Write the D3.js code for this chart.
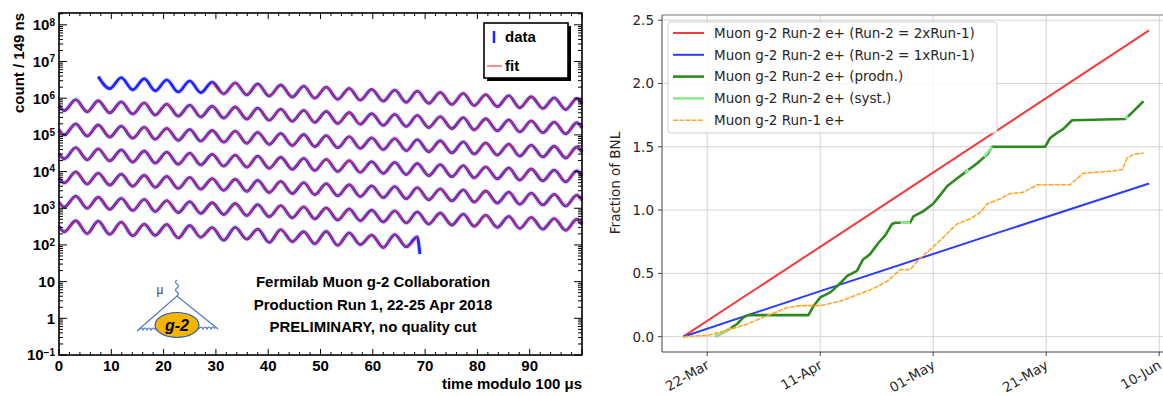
<!DOCTYPE html>
<html>
<head>
<meta charset="utf-8">
<script src="https://cdn.jsdelivr.net/npm/d3@7"></script>
<style>
  body { margin: 0; background: #fff; }
  svg { display: block; }
</style>
</head>
<body>
<div id="chart"></div>
<script>
// ---------------- left panel : wiggle plot (log10 counts at the wiggle extrema) ----------------
const wiggleTimes = [0, 1.0, 3.2, 5.4, 7.5, 9.7, 11.9, 14.1, 16.3, 18.4, 20.6, 22.8, 25.0, 27.1, 29.3, 31.5,
  33.7, 35.9, 38.0, 40.2, 42.4, 44.6, 46.8, 48.9, 51.1, 53.3, 55.5, 57.6, 59.8, 62.0, 64.2, 66.4, 68.5,
  70.7, 72.9, 75.1, 77.3, 79.4, 81.6, 83.8, 86.0, 88.1, 90.3, 92.5, 94.7, 96.9, 99.0, 100];
const lastRowTimes = [0, 1.0, 3.2, 5.4, 7.5, 9.7, 11.9, 14.1, 16.3, 18.4, 20.6, 22.8, 25.0, 27.1, 29.3, 31.5,
  33.7, 35.9, 38.0, 40.2, 42.4, 44.6, 46.8, 48.9, 51.1, 53.3, 55.5, 57.6, 59.8, 62.0, 64.2, 66.4, 68.5, 69.0];

const row1 = [null, null, null, null, 6.59, 6.26, 6.56, 6.23, 6.53, 6.20, 6.50, 6.17, 6.47, 6.15, 6.44, 6.12,
  6.42, 6.09, 6.39, 6.06, 6.36, 6.03, 6.33, 6.00, 6.30, 5.97, 6.27, 5.95, 6.24, 5.92, 6.22, 5.89, 6.19,
  5.86, 6.16, 5.83, 6.13, 5.80, 6.10, 5.77, 6.07, 5.74, 6.04, 5.72, 6.01, 5.69, 5.99, 5.85];
const row2 = [5.80, 5.66, 5.96, 5.63, 5.93, 5.60, 5.90, 5.57, 5.87, 5.54, 5.84, 5.51, 5.81, 5.49, 5.78, 5.46,
  5.76, 5.43, 5.73, 5.40, 5.70, 5.37, 5.67, 5.34, 5.64, 5.31, 5.61, 5.29, 5.58, 5.26, 5.56, 5.23, 5.53,
  5.20, 5.50, 5.17, 5.47, 5.14, 5.44, 5.11, 5.41, 5.08, 5.38, 5.06, 5.35, 5.03, 5.33, 5.19];
const row3 = [5.14, 5.00, 5.30, 4.97, 5.27, 4.94, 5.24, 4.91, 5.21, 4.88, 5.18, 4.85, 5.15, 4.83, 5.12, 4.80,
  5.10, 4.77, 5.07, 4.74, 5.04, 4.71, 5.01, 4.68, 4.98, 4.65, 4.95, 4.63, 4.92, 4.60, 4.90, 4.57, 4.87,
  4.54, 4.84, 4.51, 4.81, 4.48, 4.78, 4.45, 4.75, 4.42, 4.72, 4.40, 4.69, 4.37, 4.67, 4.53];
const row4 = [4.49, 4.35, 4.65, 4.32, 4.62, 4.29, 4.59, 4.26, 4.56, 4.23, 4.53, 4.20, 4.50, 4.18, 4.47, 4.15,
  4.45, 4.12, 4.42, 4.09, 4.39, 4.06, 4.36, 4.03, 4.33, 4.00, 4.30, 3.98, 4.27, 3.95, 4.25, 3.92, 4.22,
  3.89, 4.19, 3.86, 4.16, 3.83, 4.13, 3.80, 4.10, 3.77, 4.07, 3.75, 4.04, 3.72, 4.02, 3.88];
const row5 = [3.83, 3.69, 3.99, 3.66, 3.96, 3.63, 3.93, 3.60, 3.90, 3.57, 3.87, 3.54, 3.84, 3.52, 3.81, 3.49,
  3.79, 3.46, 3.76, 3.43, 3.73, 3.40, 3.70, 3.37, 3.67, 3.34, 3.64, 3.32, 3.61, 3.29, 3.59, 3.26, 3.56,
  3.23, 3.53, 3.20, 3.50, 3.17, 3.47, 3.14, 3.44, 3.11, 3.41, 3.09, 3.38, 3.06, 3.36, 3.22];
const row6 = [3.17, 3.03, 3.33, 3.00, 3.30, 2.97, 3.27, 2.94, 3.24, 2.91, 3.21, 2.88, 3.18, 2.86, 3.15, 2.83,
  3.13, 2.80, 3.10, 2.77, 3.07, 2.74, 3.04, 2.71, 3.01, 2.68, 2.98, 2.66, 2.95, 2.63, 2.93, 2.60, 2.90,
  2.57, 2.87, 2.54, 2.84, 2.51, 2.81, 2.48, 2.78, 2.45, 2.75, 2.43, 2.72, 2.40, 2.70, 2.56];
const row7 = [2.51, 2.36, 2.66, 2.31, 2.65, 2.29, 2.62, 2.25, 2.57, 2.26, 2.56, 2.19, 2.53, 2.21, 2.47, 2.13,
  2.48, 2.16, 2.43, 2.07, 2.42, 2.09, 2.36, 2.03, 2.37, 1.99, 2.33, 2.01, 2.27, 1.93, 2.28, 1.95, 2.22, 1.75];

const wiggleRows = [row1, row2, row3, row4, row5, row6, row7];
const fitStart = [29.3, 0, 0, 0, 0, 0, 0];
const fitEnd = [100, 100, 100, 100, 100, 100, 68.5];

const xTicksLeft = [0, 10, 20, 30, 40, 50, 60, 70, 80, 90];
const yDecades = [-1, 0, 1, 2, 3, 4, 5, 6, 7, 8];
const infoLines = ["Fermilab Muon g-2 Collaboration", "Production Run 1, 22-25 Apr 2018", "PRELIMINARY, no quality cut"];

// ---------------- right panel : fraction of BNL ----------------
const run2Double = [["2018-03-17T18", 0.00], ["2018-04-11T00", 0.71], ["2018-05-11T00", 1.59], ["2018-06-08T05", 2.42]];
const run2Single = [["2018-03-17T18", 0.00], ["2018-04-11T00", 0.36], ["2018-05-11T00", 0.80], ["2018-06-08T05", 1.21]];
const run2Prodn = [
  ["2018-03-23T10", 0.00], ["2018-03-25T13", 0.05], ["2018-03-27T07", 0.10], ["2018-03-28T09", 0.15],
  ["2018-03-29T06", 0.17], ["2018-04-08T22", 0.17], ["2018-04-09T19", 0.24], ["2018-04-11T00", 0.31],
  ["2018-04-12T19", 0.35], ["2018-04-14T12", 0.42], ["2018-04-15T19", 0.48], ["2018-04-17T12", 0.52],
  ["2018-04-18T14", 0.61], ["2018-04-19T19", 0.65], ["2018-04-21T07", 0.74], ["2018-04-22T12", 0.80],
  ["2018-04-23T17", 0.89], ["2018-04-24T07", 0.90], ["2018-04-26T22", 0.90], ["2018-04-27T12", 0.95],
  ["2018-04-29T05", 0.99], ["2018-05-01T00", 1.05], ["2018-05-01T22", 1.10], ["2018-05-03T12", 1.19],
  ["2018-05-05T05", 1.25], ["2018-05-07T00", 1.31], ["2018-05-08T19", 1.37], ["2018-05-10T14", 1.44],
  ["2018-05-11T10", 1.50], ["2018-05-20T19", 1.50], ["2018-05-21T17", 1.57], ["2018-05-22T22", 1.61],
  ["2018-05-24T00", 1.64], ["2018-05-25T14", 1.71], ["2018-06-04T00", 1.72], ["2018-06-05T10", 1.78],
  ["2018-06-07T05", 1.86]];
const run2Syst = [
  ["2018-03-23T10", 0.00], ["2018-03-25T13", 0.05], ["2018-03-26T06", 0.07], ["2018-03-26T07", null],
  ["2018-04-25T05", 0.90], ["2018-04-26T22", 0.90], ["2018-04-26T23", null],
  ["2018-05-06T17", 1.29], ["2018-05-07T05", 1.32], ["2018-05-07T06", null],
  ["2018-05-10T00", 1.42], ["2018-05-11T10", 1.50], ["2018-05-11T11", null],
  ["2018-06-04T00", 1.72], ["2018-06-04T12", 1.74]];
const run1 = [
  ["2018-03-17T18", 0.00], ["2018-03-22T00", 0.01], ["2018-03-25T13", 0.05], ["2018-03-29T02", 0.10],
  ["2018-04-01T14", 0.165], ["2018-04-05T05", 0.23], ["2018-04-07T12", 0.245], ["2018-04-11T00", 0.245],
  ["2018-04-14T12", 0.28], ["2018-04-18T02", 0.34], ["2018-04-20T10", 0.38], ["2018-04-22T22", 0.44],
  ["2018-04-25T05", 0.53], ["2018-04-26T22", 0.53], ["2018-04-28T17", 0.62], ["2018-04-30T12", 0.69],
  ["2018-05-02T05", 0.76], ["2018-05-05T05", 0.89], ["2018-05-07T12", 0.93], ["2018-05-09T07", 0.98],
  ["2018-05-10T14", 1.05], ["2018-05-12T22", 1.09], ["2018-05-14T14", 1.13], ["2018-05-16T22", 1.14],
  ["2018-05-18T05", 1.17], ["2018-05-19T10", 1.20], ["2018-05-25T05", 1.20], ["2018-05-26T12", 1.25],
  ["2018-05-27T12", 1.29], ["2018-06-01T22", 1.31], ["2018-06-03T12", 1.32], ["2018-06-04T07", 1.41],
  ["2018-06-05T10", 1.44], ["2018-06-07T05", 1.45]];

const legendLabels = [
  "Muon g-2 Run-2 e+ (Run-2 = 2xRun-1)",
  "Muon g-2 Run-2 e+ (Run-2 = 1xRun-1)",
  "Muon g-2 Run-2 e+ (prodn.)",
  "Muon g-2 Run-2 e+ (syst.)",
  "Muon g-2 Run-1 e+"];
const dateTicks = ["2018-03-22", "2018-04-11", "2018-05-01", "2018-05-21", "2018-06-10"];
const yTicksRight = [0, 0.5, 1.0, 1.5, 2.0, 2.5];

const svg = d3.select("#chart").append("svg").attr("width", 1163).attr("height", 396);

// =========================== left panel ===========================
const L = svg.append("g").attr("font-family", "'Liberation Sans', Arial, sans-serif").attr("font-weight", "bold");
const xL = d3.scaleLinear().domain([0, 100]).range([59, 582]);
const yL = d3.scaleLog().domain([0.1, 2.1e8]).range([355, 13]);

// wiggles: data (blue, with light error halo) and fit (red) on top
const wig = d3.line()
  .defined(d => d[1] != null)
  .x(d => xL(d[0]))
  .y(d => yL(Math.pow(10, d[1])))
  .curve(d3.curveMonotoneX);

wiggleRows.forEach((vals, i) => {
  const times = vals.length === wiggleTimes.length ? wiggleTimes : lastRowTimes;
  const pts = times.map((t, k) => [t, vals[k]]);
  L.append("path").attr("d", wig(pts)).attr("fill", "none")
    .attr("stroke", "#b4b9ff").attr("stroke-width", 5).attr("stroke-opacity", 0.55);
  L.append("path").attr("d", wig(pts)).attr("fill", "none")
    .attr("stroke", "#2024ff").attr("stroke-width", 2.8);
  const fitPts = pts.filter(d => d[0] >= fitStart[i] && d[0] <= fitEnd[i]);
  L.append("path").attr("d", wig(fitPts)).attr("fill", "none")
    .attr("stroke", "#ff2a2a").attr("stroke-width", 1.4).attr("stroke-opacity", 0.85);
});

// frame
L.append("rect").attr("x", 59).attr("y", 13).attr("width", 523).attr("height", 342)
  .attr("fill", "none").attr("stroke", "#000").attr("stroke-width", 1.6);

// x ticks (bottom pointing up, top pointing down)
d3.range(0, 101, 2).forEach(v => {
  const len = v % 10 === 0 ? 6 : 3;
  L.append("line").attr("x1", xL(v)).attr("x2", xL(v)).attr("y1", 355).attr("y2", 355 - len)
    .attr("stroke", "#000").attr("stroke-width", 1);
  L.append("line").attr("x1", xL(v)).attr("x2", xL(v)).attr("y1", 13).attr("y2", 13 + len)
    .attr("stroke", "#000").attr("stroke-width", 1);
});
L.selectAll(".xlab").data(xTicksLeft).enter().append("text")
  .attr("x", d => xL(d)).attr("y", 371).attr("text-anchor", "middle")
  .attr("font-size", "15px").text(d => d);

// y ticks (log, major + minor on both sides)
yDecades.forEach(e => {
  d3.range(1, 10).forEach(m => {
    const v = m * Math.pow(10, e);
    if (v > 2.1e8) return;
    const len = m === 1 ? 8 : 4;
    L.append("line").attr("x1", 59).attr("x2", 59 + len).attr("y1", yL(v)).attr("y2", yL(v))
      .attr("stroke", "#000").attr("stroke-width", 1);
    L.append("line").attr("x1", 582).attr("x2", 582 - len).attr("y1", yL(v)).attr("y2", yL(v))
      .attr("stroke", "#000").attr("stroke-width", 1);
  });
  const t = L.append("text").attr("x", 55).attr("y", yL(Math.pow(10, e))).attr("dy", "0.36em")
    .attr("text-anchor", "end").attr("font-size", "15px");
  if (e === 0) t.text("1");
  else if (e === 1) t.text("10");
  else {
    t.append("tspan").text("10");
    t.append("tspan").attr("dy", "-0.45em").attr("font-size", "10px").text(e < 0 ? "\u2212" + (-e) : e);
  }
});

// axis titles
L.append("text").attr("transform", "translate(24,13) rotate(-90)").attr("text-anchor", "end")
  .attr("font-size", "15px").text("count / 149 ns");
L.append("text").attr("x", 582).attr("y", 389).attr("text-anchor", "end")
  .attr("font-size", "15px").text("time modulo 100 \u03bcs");

// legend box
L.append("rect").attr("x", 487).attr("y", 26).attr("width", 84).attr("height", 55).attr("fill", "#000");
L.append("rect").attr("x", 484).attr("y", 23).attr("width", 84).attr("height", 55)
  .attr("fill", "#fff").attr("stroke", "#000").attr("stroke-width", 1.6);
L.append("line").attr("x1", 494).attr("x2", 494).attr("y1", 31).attr("y2", 43)
  .attr("stroke", "#1e22ff").attr("stroke-width", 2.5);
L.append("text").attr("x", 505).attr("y", 42).attr("font-size", "15px").text("data");
L.append("line").attr("x1", 487).attr("x2", 502).attr("y1", 66).attr("y2", 66)
  .attr("stroke", "#ff8a8a").attr("stroke-width", 2);
L.append("text").attr("x", 505).attr("y", 71).attr("font-size", "15px").text("fit");

// info text
L.selectAll(".info").data(infoLines).enter().append("text")
  .attr("x", 373).attr("y", (d, i) => 287 + i * 22.5).attr("text-anchor", "middle")
  .attr("font-size", "15px").text(d => d);

// g-2 logo
const logo = L.append("g").attr("fill", "none").attr("stroke", "#4a78c8").attr("stroke-width", 1.2);
logo.append("path").attr("d", "M137,331 L177,296 L218,329");
logo.append("path").attr("d", "M177,296 q3,-2 0,-4 q-3,-2 0,-4 q3,-2 0,-4 q-3,-2 0,-4");
logo.append("path").attr("d", "M139,330 q2,-4 4,0 q2,-4 4,0 q2,-4 4,0 q2,-4 4,0");
logo.append("path").attr("d", "M199,329 q2,-4 4,0 q2,-4 4,0 q2,-4 4,0 q2,-4 4,0");
L.append("ellipse").attr("cx", 177).attr("cy", 325).attr("rx", 22).attr("ry", 12.5)
  .attr("fill", "#f6b400").attr("stroke", "#2a5cb0").attr("stroke-width", 1.2);
L.append("text").attr("x", 177).attr("y", 331).attr("text-anchor", "middle")
  .attr("font-size", "16px").attr("font-style", "italic").text("g-2");
L.append("text").attr("x", 160).attr("y", 294).attr("text-anchor", "middle").attr("font-weight", "normal")
  .attr("fill", "#444").attr("font-size", "12px").text("\u03bc");

// =========================== right panel ===========================
const R = svg.append("g").attr("font-family", "'DejaVu Sans', sans-serif").attr("font-size", "13.5px").attr("fill", "#262626");
const parse = d3.timeParse("%Y-%m-%dT%H");
const parseDay = d3.timeParse("%Y-%m-%d");
const xR = d3.scaleTime().domain([parseDay("2018-03-14"), parseDay("2018-06-12")]).range([662, 1170.5]);
const yR = d3.scaleLinear().domain([-0.121, 2.541]).range([352, 15]);

// grid
R.selectAll(".gx").data(dateTicks).enter().append("line")
  .attr("x1", d => xR(parseDay(d))).attr("x2", d => xR(parseDay(d))).attr("y1", 15).attr("y2", 352)
  .attr("stroke", "#d4d4d4").attr("stroke-width", 1);
R.selectAll(".gy").data(yTicksRight).enter().append("line")
  .attr("x1", 662).attr("x2", 1170).attr("y1", d => yR(d)).attr("y2", d => yR(d))
  .attr("stroke", "#d4d4d4").attr("stroke-width", 1);

const lineR = d3.line()
  .defined(d => d[1] != null)
  .x(d => xR(parse(d[0])))
  .y(d => yR(d[1]));

const seriesStyle = [
  { data: run2Double, color: "#f23b3b", width: 2, dash: null },
  { data: run2Single, color: "#2b3cff", width: 2, dash: null },
  { data: run2Prodn, color: "#2c8a1f", width: 2.6, dash: null },
  { data: run2Syst, color: "#8fe88f", width: 2.6, dash: null },
  { data: run1, color: "#ffa62b", width: 1.6, dash: "5,1.2" }];

seriesStyle.forEach(s => {
  R.append("path").attr("d", lineR(s.data)).attr("fill", "none")
    .attr("stroke", s.color).attr("stroke-width", s.width)
    .attr("stroke-dasharray", s.dash).attr("stroke-linejoin", "round");
});

// spines
R.append("line").attr("x1", 662).attr("x2", 662).attr("y1", 15).attr("y2", 352).attr("stroke", "#444").attr("stroke-width", 1);
R.append("line").attr("x1", 662).attr("x2", 1170).attr("y1", 352).attr("y2", 352).attr("stroke", "#444").attr("stroke-width", 1);
R.append("line").attr("x1", 662).attr("x2", 1170).attr("y1", 15).attr("y2", 15).attr("stroke", "#777").attr("stroke-width", 1);

// y ticks
R.selectAll(".ty").data(yTicksRight).enter().append("line")
  .attr("x1", 658).attr("x2", 662).attr("y1", d => yR(d)).attr("y2", d => yR(d)).attr("stroke", "#444");
R.selectAll(".ly").data(yTicksRight).enter().append("text")
  .attr("x", 654).attr("y", d => yR(d)).attr("dy", "0.36em").attr("text-anchor", "end")
  .text(d => d3.format(".1f")(d));

// x ticks
const fmt = d3.timeFormat("%d-%b");
R.selectAll(".tx").data(dateTicks).enter().append("line")
  .attr("x1", d => xR(parseDay(d))).attr("x2", d => xR(parseDay(d))).attr("y1", 352).attr("y2", 356).attr("stroke", "#444");
R.selectAll(".lx").data(dateTicks).enter().append("text")
  .attr("transform", d => `translate(${xR(parseDay(d)) - 2},359) rotate(-30)`)
  .attr("text-anchor", "end").attr("dy", "0.75em")
  .text(d => fmt(parseDay(d)));

R.append("text").attr("transform", "translate(620,183) rotate(-90)").attr("text-anchor", "middle")
  .text("Fraction of BNL");

// legend
R.append("rect").attr("x", 668).attr("y", 22).attr("width", 329).attr("height", 111).attr("rx", 3)
  .attr("fill", "#fff").attr("fill-opacity", 0.8).attr("stroke", "#d0d0d0");
legendLabels.forEach((lab, i) => {
  const yy = 33 + i * 21.8;
  const s = seriesStyle[i];
  R.append("line").attr("x1", 673).attr("x2", 704).attr("y1", yy).attr("y2", yy)
    .attr("stroke", s.color).attr("stroke-width", s.width).attr("stroke-dasharray", s.dash);
  R.append("text").attr("x", 714).attr("y", yy).attr("dy", "0.36em").text(lab);
});
</script>
</body>
</html>
